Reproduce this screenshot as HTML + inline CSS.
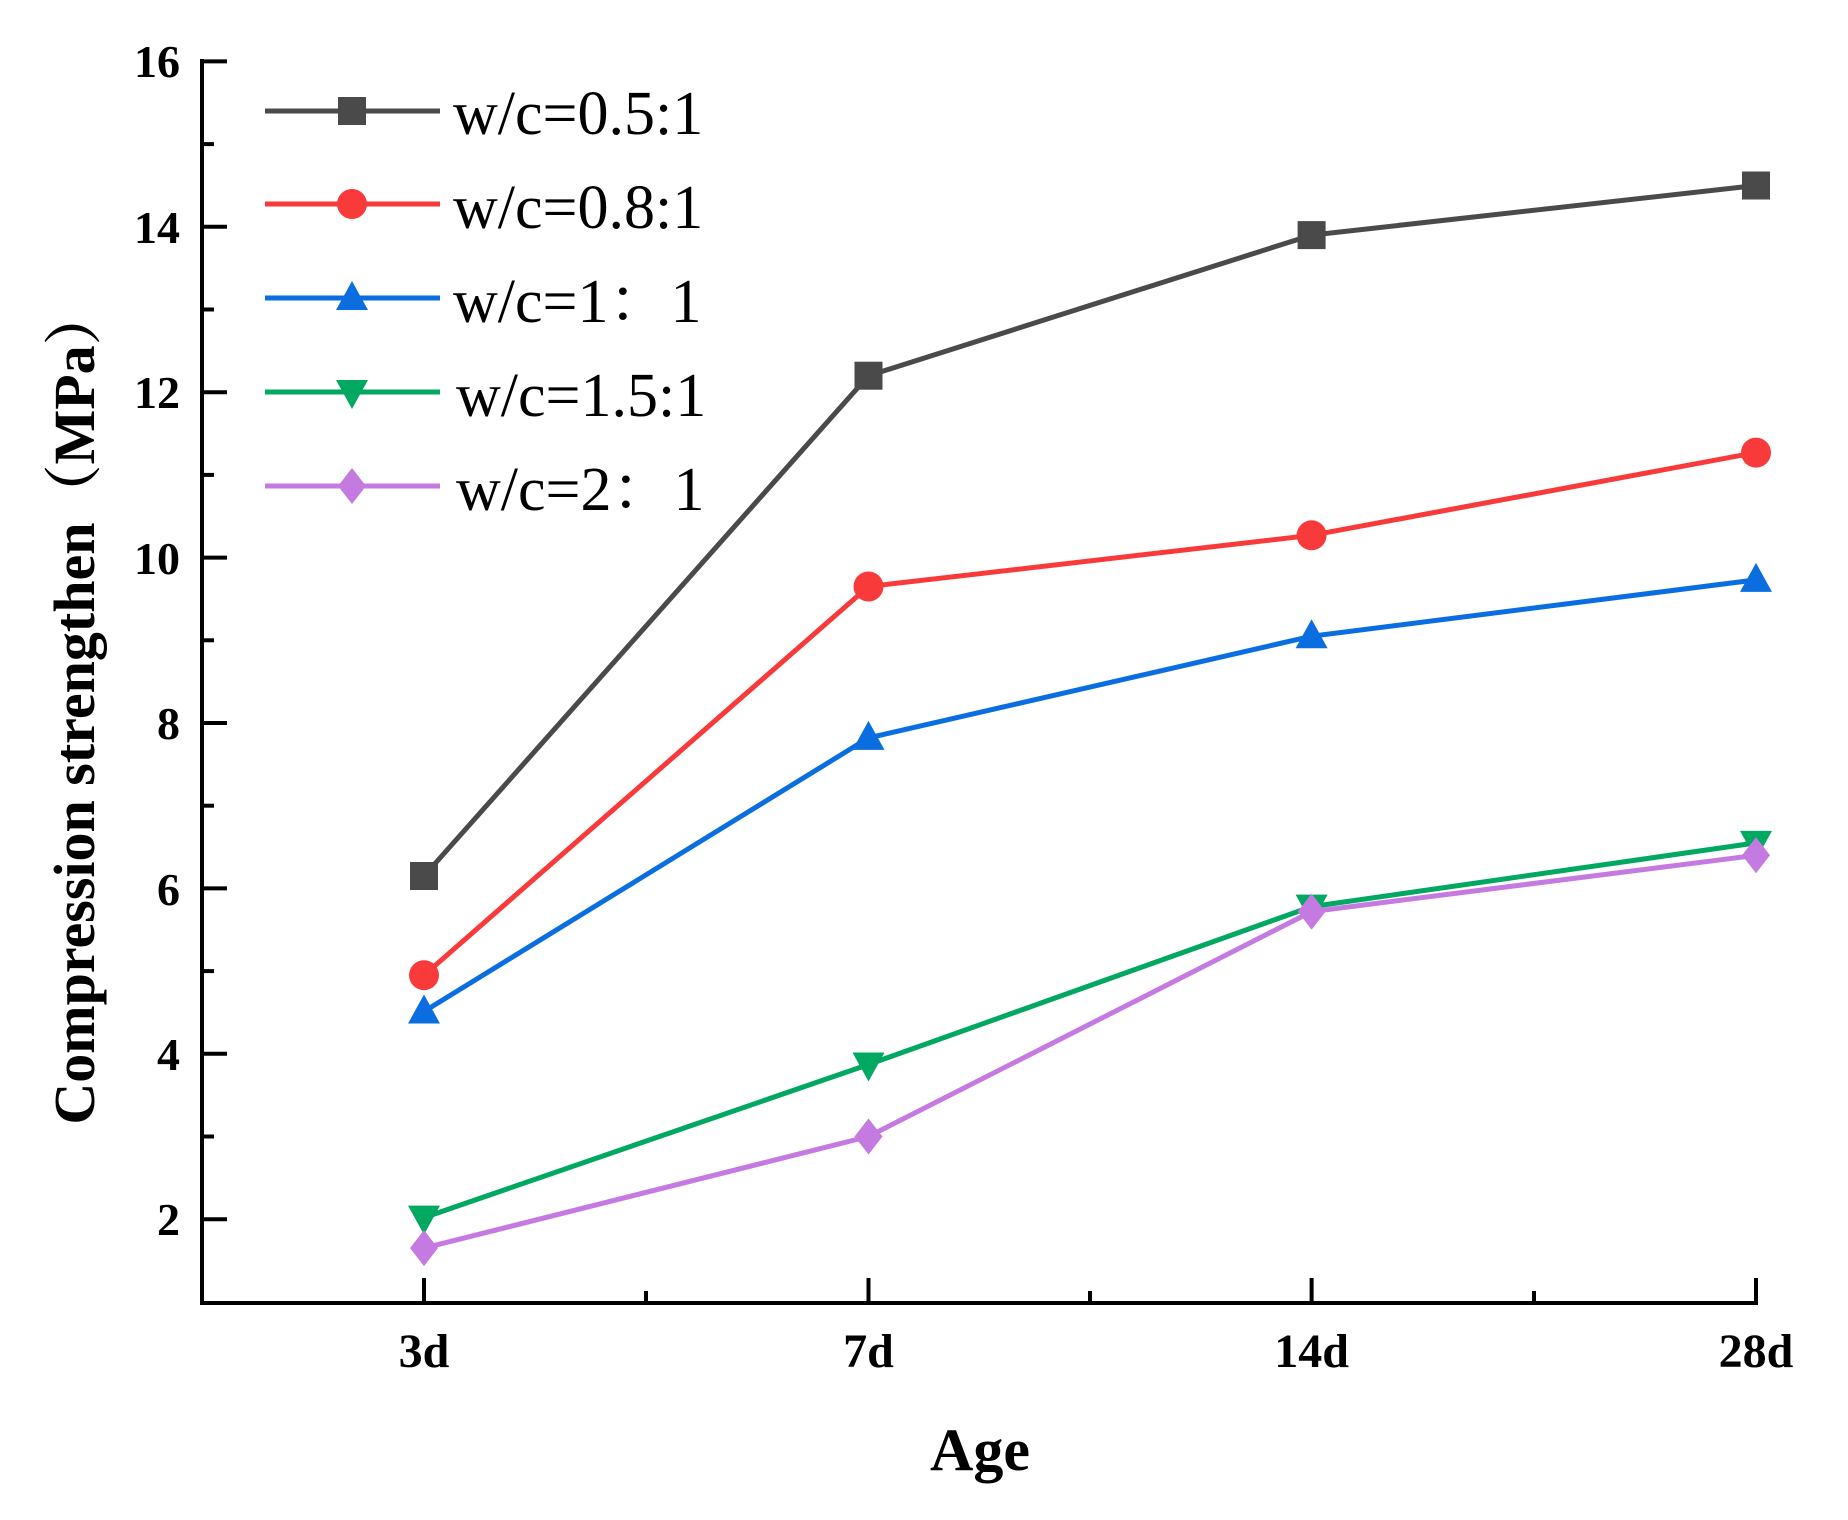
<!DOCTYPE html>
<html><head><meta charset="utf-8"><style>html,body{margin:0;padding:0;background:#fff}svg{display:block}</style></head>
<body>
<svg width="1848" height="1520" viewBox="0 0 1848 1520" xmlns="http://www.w3.org/2000/svg">
<g stroke="#000" stroke-width="4" fill="none">
<line x1="202" y1="59" x2="202" y2="1303"/>
<line x1="200" y1="1303" x2="1758" y2="1303"/>
<line x1="202" y1="61.4" x2="227" y2="61.4"/>
<line x1="202" y1="226.8" x2="227" y2="226.8"/>
<line x1="202" y1="392.2" x2="227" y2="392.2"/>
<line x1="202" y1="557.6" x2="227" y2="557.6"/>
<line x1="202" y1="723" x2="227" y2="723"/>
<line x1="202" y1="888.4" x2="227" y2="888.4"/>
<line x1="202" y1="1053.8" x2="227" y2="1053.8"/>
<line x1="202" y1="1219.2" x2="227" y2="1219.2"/>
<line x1="202" y1="144.1" x2="214" y2="144.1"/>
<line x1="202" y1="309.5" x2="214" y2="309.5"/>
<line x1="202" y1="474.9" x2="214" y2="474.9"/>
<line x1="202" y1="640.3" x2="214" y2="640.3"/>
<line x1="202" y1="805.7" x2="214" y2="805.7"/>
<line x1="202" y1="971.1" x2="214" y2="971.1"/>
<line x1="202" y1="1136.5" x2="214" y2="1136.5"/>
<line x1="424" y1="1303" x2="424" y2="1278"/>
<line x1="868.5" y1="1303" x2="868.5" y2="1278"/>
<line x1="1311.6" y1="1303" x2="1311.6" y2="1278"/>
<line x1="1756" y1="1303" x2="1756" y2="1278"/>
<line x1="646" y1="1303" x2="646" y2="1291"/>
<line x1="1090" y1="1303" x2="1090" y2="1291"/>
<line x1="1534" y1="1303" x2="1534" y2="1291"/>
</g>
<g font-family="Liberation Serif, serif" font-weight="bold" font-size="46" text-anchor="end" fill="#000">
<text x="180" y="77">16</text>
<text x="180" y="243">14</text>
<text x="180" y="408">12</text>
<text x="180" y="574">10</text>
<text x="180" y="739">8</text>
<text x="180" y="905">6</text>
<text x="180" y="1070">4</text>
<text x="180" y="1235">2</text>
</g>
<g font-family="Liberation Serif, serif" font-weight="bold" font-size="48" text-anchor="middle" fill="#000">
<text x="424" y="1367">3d</text>
<text x="868.5" y="1367">7d</text>
<text x="1311.6" y="1367">14d</text>
<text x="1756" y="1367">28d</text>
<text x="980" y="1470" font-size="60">Age</text>
<text transform="translate(94,706) rotate(-90)" font-size="58" font-family="Liberation Serif, 'Noto Serif CJK SC', serif">Compression strengthen（MPa）</text>
</g>
<g fill="none" stroke-width="5" stroke-linejoin="round">
<polyline stroke="#4a4a4a" points="424,876 868.5,375.7 1311.6,235.1 1756,185.5"/>
<polyline stroke="#f93a3a" points="424,975.2 868.5,586.5 1311.6,535.3 1756,452.6"/>
<polyline stroke="#0a6ee0" points="424,1011.5 868.5,737.9 1311.6,636.2 1756,579.9"/>
<polyline stroke="#00a862" points="424,1217.6 868.5,1064.5 1311.6,906.6 1756,842.9"/>
<polyline stroke="#c47ae0" points="424,1248.1 868.5,1136.5 1311.6,911.6 1756,855.3"/>
</g>
<defs>
<rect id="sq" x="-14" y="-14" width="28" height="28" fill="#4a4a4a"/>
<circle id="ci" r="15" fill="#f93a3a"/>
<polygon id="tu" points="0,-17 16,12 -16,12" fill="#0a6ee0"/>
<polygon id="td" points="0,17 16,-12 -16,-12" fill="#00a862"/>
<polygon id="di" points="0,-18 14,0 0,18 -14,0" fill="#c47ae0"/>
</defs>
<use href="#sq" x="424" y="876"/><use href="#sq" x="868.5" y="375.7"/><use href="#sq" x="1311.6" y="235.1"/><use href="#sq" x="1756" y="185.5"/>
<use href="#ci" x="424" y="975.2"/><use href="#ci" x="868.5" y="586.5"/><use href="#ci" x="1311.6" y="535.3"/><use href="#ci" x="1756" y="452.6"/>
<use href="#tu" x="424" y="1011.5"/><use href="#tu" x="868.5" y="737.9"/><use href="#tu" x="1311.6" y="636.2"/><use href="#tu" x="1756" y="579.9"/>
<use href="#td" x="424" y="1217.6"/><use href="#td" x="868.5" y="1064.5"/><use href="#td" x="1311.6" y="906.6"/><use href="#td" x="1756" y="842.9"/>
<use href="#di" x="424" y="1248.1"/><use href="#di" x="868.5" y="1136.5"/><use href="#di" x="1311.6" y="911.6"/><use href="#di" x="1756" y="855.3"/>
<g stroke-width="5">
<line x1="265" y1="111" x2="440" y2="111" stroke="#4a4a4a"/>
<line x1="265" y1="204" x2="440" y2="204" stroke="#f93a3a"/>
<line x1="265" y1="298" x2="440" y2="298" stroke="#0a6ee0"/>
<line x1="265" y1="392" x2="440" y2="392" stroke="#00a862"/>
<line x1="265" y1="486" x2="440" y2="486" stroke="#c47ae0"/>
</g>
<use href="#sq" x="352" y="111"/><use href="#ci" x="352" y="204"/><use href="#tu" x="352" y="298"/><use href="#td" x="352" y="392"/><use href="#di" x="352" y="486"/>
<g font-family="Liberation Serif, 'Noto Serif CJK SC', serif" font-size="62" fill="#000">
<text x="453" y="134">w/c=0.5:1</text>
<text x="453" y="228">w/c=0.8:1</text>
<text x="453" y="322">w/c=1：1</text>
<text x="456" y="416">w/c=1.5:1</text>
<text x="456" y="510">w/c=2：1</text>
</g>
</svg>
</body></html>
